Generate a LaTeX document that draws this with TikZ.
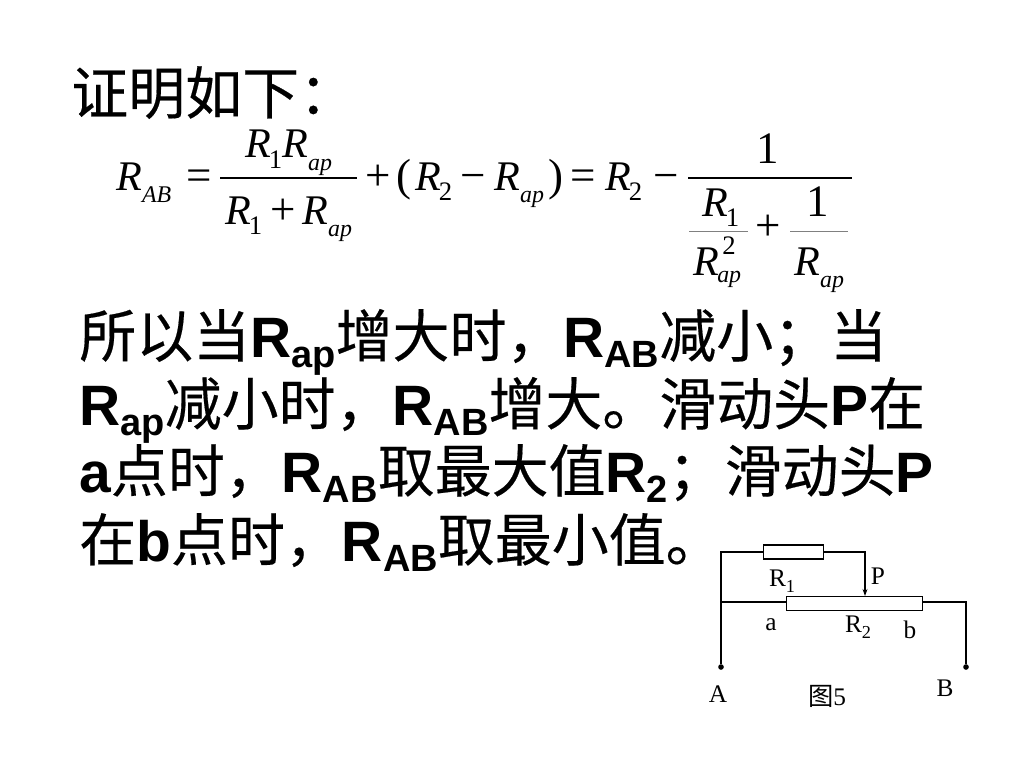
\documentclass[tikz,border=0pt]{standalone}
\usepackage{fontspec}
\setmainfont{Liberation Serif}
\setsansfont{Liberation Sans}
\newfontfamily\cjk[FakeBold=0.3]{Noto Sans CJK SC}
\newfontfamily\cjklight{Noto Sans CJK SC}
\usetikzlibrary{arrows.meta, positioning}

% Chinese run, subscript runs
\newcommand{\zh}[1]{{\cjk\mdseries #1}}
\newcommand{\bsub}[1]{\raisebox{-0.19em}{\fontsize{27}{27}\selectfont #1}}
\newcommand{\msub}[1]{\raisebox{-0.3em}{\fontsize{17}{17}\selectfont\itshape #1}}
\newcommand{\mnum}[1]{\kern-1.5pt\raisebox{-0.25em}{\fontsize{19}{19}\selectfont\upshape #1}}
\newcommand{\csub}[1]{\raisebox{-0.25em}{\fontsize{13}{13}\selectfont #1}}

\begin{document}
\begin{tikzpicture}[
    x=0.025cm, y=-0.025cm,
    >=Stealth,
    % Text styles
    bodytext/.style={anchor=base west, inner sep=0pt, font=\fontsize{40.5}{40.5}\selectfont\sffamily\bfseries},
    formula/.style={anchor=base west, inner sep=0pt, font=\fontsize{30}{30}\selectfont\itshape},
    formulaop/.style={anchor=base, inner sep=0pt, font=\fontsize{32}{32}\selectfont},
    fracline/.style={line width=1pt},
    thinfrac/.style={line width=0.5pt, gray},
    % Circuit styles
    resistor/.style={rectangle, draw, fill=white, line width=0.8pt, inner sep=0pt},
    wire/.style={line width=0.8pt},
    terminal/.style={circle, fill=black, minimum size=4pt, inner sep=0pt},
    circuitlabel/.style={anchor=base, inner sep=0pt, font=\fontsize{18}{18}\selectfont}
]
    \useasboundingbox (0,0) rectangle (1024,768);

    % === HEADING ===
    \node[bodytext] (head) at (71,114) {\zh{证明如下：}};

    % === FORMULA ===
    \node[formula] (rab) at (116,190) {R\msub{AB}};
    \node[formulaop] (eqa) at (199,190) {=};
    \node[formula] (numa) at (245,158) {R\mnum{1}R\msub{ap}};
    \node[formula] (dena) at (225,224) {R\mnum{1}};
    \node[formulaop] (dplus) at (283,224) {+};
    \node[formula] (denb) at (302,224) {R\msub{ap}};
    \draw[fracline] (220,178) -- (357,178);
    \node[formulaop] (plusa) at (378,190) {+};
    \node[formulaop] (lpar) at (404,190) {(};
    \node[formula] (rtwo) at (415,190) {R\mnum{2}};
    \node[formulaop] (mina) at (473,190) {−};
    \node[formula] (rap) at (494,190) {R\msub{ap}};
    \node[formulaop] (rpar) at (556,190) {)};
    \node[formulaop] (eqb) at (583,190) {=};
    \node[formula] (rtwob) at (605,190) {R\mnum{2}};
    \node[formulaop] (minb) at (666,190) {−};
    \draw[fracline] (688,178) -- (852,178);
    \node[formulaop] (one) at (768,164) {1};
    \node[formula] (rone) at (702,216) {R\mnum{1}};
    \draw[thinfrac] (689,231) -- (748,231);
    \node[formula] (rapq) at (693,275) {R};
    \node[inner sep=0pt, anchor=base west, font=\fontsize{19}{19}\selectfont] (sq) at (722,254) {2};
    \node[inner sep=0pt, anchor=base west, font=\fontsize{17}{17}\selectfont\itshape] (sqsub) at (717,282) {ap};
    \node[formulaop] (plusb) at (768,240) {+};
    \node[formulaop] (oneb) at (818,216) {1};
    \draw[thinfrac] (790,231) -- (848,231);
    \node[formula] (rapb) at (794,275) {R\msub{ap}};

    % === BODY ===
    \node[bodytext] (linea) at (79,357) {\zh{所以当}R\bsub{ap}\zh{增大时，}R\bsub{AB}\zh{减小；当}};
    \node[bodytext] (lineb) at (79,425) {R\bsub{ap}\zh{减小时，}R\bsub{AB}\zh{增大。滑动头}P\zh{在}};
    \node[bodytext] (linec) at (79,492) {a\zh{点时，}R\bsub{AB}\zh{取最大值}R\bsub{2}\zh{；滑动头}P};
    \node[bodytext] (lined) at (79,561) {\zh{在}b\zh{点时，}R\bsub{AB}\zh{取最小值。}};

    % === CIRCUIT ===
    \node[resistor, minimum width=1.52cm, minimum height=0.35cm] (rbox1) at (793.5,552) {};
    \node[resistor, minimum width=3.38cm, minimum height=0.33cm] (rbox2) at (854.5,603.5) {};
    \node[terminal] (ta) at (721,667) {};
    \node[terminal] (tb) at (966,667) {};
    \coordinate (slider) at (865,596);
    \coordinate (jn) at (721,602);

    \draw[wire] (ta) |- (rbox1);
    \draw[wire] (jn) -- (rbox2.west |- jn);
    \draw[wire, -{Stealth[length=5pt,width=3.5pt]}] (rbox1) -| (slider);
    \draw[wire] (rbox2.east |- jn) -| (tb);

    \node[circuitlabel] (lr1) at (782,586) {R\csub{1}};
    \node[circuitlabel] (lp) at (878,584) {P};
    \node[circuitlabel] (la) at (771,630) {a};
    \node[circuitlabel] (lr2) at (858,632) {R\csub{2}};
    \node[circuitlabel] (lb) at (910,638) {b};
    \node[circuitlabel] (lta) at (718,702) {A};
    \node[circuitlabel] (ltb) at (945,696) {B};
    \node[circuitlabel] (fig) at (827,705) {{\cjklight 图}5};
\end{tikzpicture}
\end{document}
